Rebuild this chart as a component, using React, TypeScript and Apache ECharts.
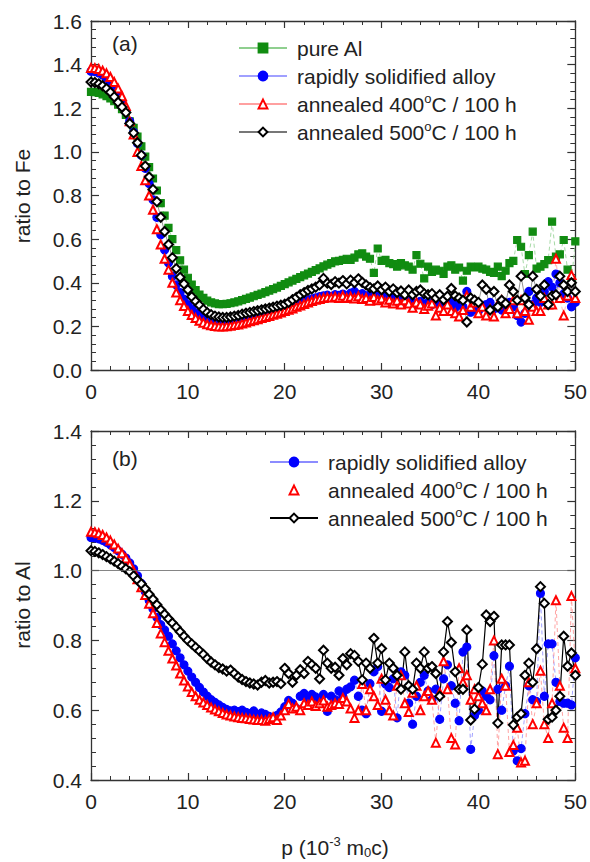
import React, { useEffect, useRef } from 'react';
import * as echarts from 'echarts';

// momentum grid p (10^-3 m0c), step 0.4
const P: number[] = Array.from({ length: 126 }, (_, i) => Math.round(i * 4) / 10);

// ---------- panel (a): ratio to Fe ----------
const topPureAl = [
  1.275, 1.274, 1.27, 1.264, 1.256, 1.245, 1.232, 1.216, 1.196, 1.17,
  1.14, 1.11, 1.07, 1.025, 0.978, 0.93, 0.878, 0.823, 0.765, 0.708,
  0.652, 0.6, 0.55, 0.503, 0.46, 0.423, 0.392, 0.366, 0.346, 0.331,
  0.318, 0.31, 0.305, 0.302, 0.302, 0.303, 0.306, 0.31, 0.315, 0.32,
  0.326, 0.332, 0.338, 0.344, 0.35, 0.357, 0.364, 0.371, 0.378, 0.386,
  0.394, 0.402, 0.41, 0.418, 0.426, 0.434, 0.442, 0.45, 0.458, 0.466,
  0.475, 0.483, 0.49, 0.498, 0.5, 0.505, 0.51, 0.505, 0.515, 0.53,
  0.535, 0.52, 0.51, 0.445, 0.557, 0.5, 0.505, 0.49, 0.485, 0.474,
  0.49, 0.48, 0.474, 0.46, 0.527, 0.487, 0.42, 0.474, 0.45, 0.46,
  0.455, 0.44, 0.474, 0.48, 0.46, 0.47, 0.41, 0.455, 0.474, 0.47,
  0.474, 0.465, 0.46, 0.45, 0.445, 0.474, 0.43, 0.455, 0.49, 0.5,
  0.596, 0.565, 0.44, 0.527, 0.634, 0.465, 0.474, 0.485, 0.504, 0.68,
  0.52, 0.53, 0.596, 0.46, 0.41, 0.59,
];
const topRapid = [
  1.37, 1.368, 1.362, 1.352, 1.338, 1.318, 1.293, 1.262, 1.225, 1.185,
  1.14, 1.09, 1.04, 0.985, 0.925, 0.855, 0.78, 0.7, 0.62, 0.55,
  0.49, 0.43, 0.39, 0.355, 0.325, 0.3, 0.28, 0.262, 0.248, 0.236,
  0.227, 0.22, 0.215, 0.213, 0.213, 0.214, 0.216, 0.219, 0.222, 0.226,
  0.23, 0.234, 0.238, 0.242, 0.246, 0.25, 0.255, 0.26, 0.265, 0.27,
  0.28, 0.286, 0.293, 0.3, 0.307, 0.314, 0.32, 0.326, 0.331, 0.336,
  0.34, 0.343, 0.338, 0.345, 0.342, 0.348, 0.34, 0.352, 0.36, 0.345,
  0.35, 0.34, 0.345, 0.335, 0.342, 0.33, 0.338, 0.325, 0.335, 0.32,
  0.325, 0.31, 0.322, 0.31, 0.3, 0.315, 0.29, 0.31, 0.3, 0.32,
  0.295, 0.31, 0.3, 0.315, 0.285, 0.3, 0.29, 0.36, 0.265, 0.28,
  0.27, 0.29, 0.3, 0.31, 0.28, 0.29, 0.275, 0.3, 0.31, 0.29,
  0.25, 0.22, 0.26, 0.36, 0.3, 0.33, 0.31, 0.36, 0.405, 0.38,
  0.44, 0.4, 0.35, 0.33, 0.29, 0.31,
];
const top400 = [
  1.385, 1.384, 1.38, 1.372, 1.36, 1.343, 1.32, 1.29, 1.255, 1.21,
  1.14, 1.08, 1.0, 0.935, 0.87, 0.8, 0.735, 0.645, 0.575, 0.51,
  0.46, 0.4, 0.355, 0.32, 0.293, 0.27, 0.252, 0.238, 0.226, 0.217,
  0.21, 0.205, 0.202, 0.2, 0.2, 0.201, 0.203, 0.206, 0.209, 0.213,
  0.218, 0.223, 0.228, 0.233, 0.238, 0.243, 0.248, 0.253, 0.258, 0.264,
  0.27, 0.276, 0.282, 0.29, 0.296, 0.303, 0.31, 0.316, 0.322, 0.326,
  0.33, 0.333, 0.332, 0.336, 0.33, 0.34, 0.33, 0.336, 0.328, 0.338,
  0.325, 0.33, 0.318, 0.335, 0.32, 0.328, 0.31, 0.322, 0.305, 0.318,
  0.3, 0.32, 0.305, 0.285, 0.31, 0.3, 0.28, 0.295, 0.305, 0.25,
  0.285, 0.27, 0.3, 0.27, 0.26, 0.245, 0.275, 0.34, 0.29, 0.31,
  0.26, 0.29, 0.25, 0.28, 0.245, 0.3, 0.32, 0.26, 0.28, 0.32,
  0.26, 0.32, 0.27, 0.23, 0.29, 0.27, 0.27, 0.33, 0.3, 0.3,
  0.51, 0.33, 0.25, 0.34, 0.435, 0.33,
];
const top500 = [
  1.32, 1.318, 1.312, 1.303, 1.29, 1.273, 1.252, 1.227, 1.205, 1.18,
  1.13, 1.087, 1.042, 0.985, 0.935, 0.885, 0.828, 0.772, 0.7, 0.635,
  0.575, 0.515, 0.465, 0.425, 0.395, 0.368, 0.336, 0.315, 0.297, 0.278,
  0.263, 0.254, 0.247, 0.243, 0.241, 0.241, 0.243, 0.247, 0.25, 0.256,
  0.26, 0.264, 0.268, 0.272, 0.276, 0.28, 0.284, 0.288, 0.293, 0.297,
  0.302, 0.31, 0.322, 0.333, 0.345, 0.355, 0.365, 0.372, 0.38, 0.39,
  0.42, 0.398, 0.392, 0.405, 0.398, 0.41, 0.395, 0.412, 0.4, 0.418,
  0.402, 0.39, 0.378, 0.372, 0.385, 0.368, 0.38, 0.36, 0.372, 0.355,
  0.362, 0.345, 0.367, 0.345, 0.36, 0.367, 0.35, 0.345, 0.35, 0.33,
  0.345, 0.322, 0.338, 0.374, 0.34, 0.33, 0.32, 0.22, 0.33, 0.32,
  0.31, 0.39, 0.37, 0.275, 0.36, 0.29, 0.32, 0.305, 0.39, 0.36,
  0.32, 0.43, 0.33, 0.3, 0.43, 0.37, 0.34, 0.39, 0.3, 0.34,
  0.345, 0.43, 0.39, 0.36, 0.4, 0.36,
];

// ---------- panel (b): ratio to Al ----------
const botRapid = [
  1.095, 1.094, 1.091, 1.087, 1.081, 1.074, 1.066, 1.057, 1.047, 1.036,
  1.022, 1.005, 0.985, 0.963, 0.94, 0.915, 0.89, 0.866, 0.845, 0.83,
  0.812, 0.79, 0.77, 0.75, 0.73, 0.712, 0.695, 0.68, 0.665, 0.652,
  0.64, 0.63, 0.622, 0.615, 0.608, 0.602, 0.598, 0.6, 0.596, 0.6,
  0.594, 0.59, 0.598, 0.585, 0.592, 0.588, 0.582, 0.578, 0.585, 0.595,
  0.61, 0.628, 0.62, 0.605, 0.64, 0.648, 0.63, 0.645, 0.638, 0.628,
  0.645, 0.597, 0.64, 0.63, 0.655, 0.64, 0.66, 0.667, 0.686, 0.64,
  0.6, 0.59, 0.676, 0.71, 0.725, 0.597, 0.675, 0.665, 0.69, 0.578,
  0.71, 0.7, 0.62, 0.56, 0.64, 0.68, 0.7, 0.655, 0.63, 0.66,
  0.574, 0.69, 0.73, 0.67, 0.62, 0.57, 0.767, 0.781, 0.488, 0.585,
  0.6, 0.655, 0.64, 0.63, 0.756, 0.66, 0.6, 0.67, 0.726, 0.483,
  0.455, 0.49, 0.59, 0.67, 0.63, 0.625, 0.935, 0.64, 0.79, 0.79,
  0.68, 0.625, 0.62, 0.62, 0.615, 0.75,
];
const bot400 = [
  1.111, 1.11, 1.107, 1.102, 1.095, 1.086, 1.075, 1.063, 1.05, 1.035,
  1.018, 0.998, 0.975, 0.952, 0.93, 0.905, 0.878, 0.85, 0.82, 0.795,
  0.77, 0.748, 0.728, 0.705, 0.685, 0.668, 0.652, 0.64, 0.63, 0.622,
  0.615, 0.608, 0.602, 0.597, 0.592, 0.588, 0.585, 0.582, 0.58, 0.578,
  0.577, 0.575, 0.573, 0.572, 0.572, 0.57, 0.575, 0.58, 0.572, 0.585,
  0.6, 0.618, 0.605, 0.61, 0.6, 0.62, 0.615, 0.625, 0.612, 0.62,
  0.628, 0.61, 0.615, 0.62, 0.618, 0.635, 0.625, 0.605, 0.578, 0.6,
  0.675, 0.6, 0.66, 0.64, 0.615, 0.69, 0.63, 0.6, 0.585, 0.67,
  0.7, 0.62, 0.595, 0.65, 0.67, 0.6, 0.64, 0.655, 0.63, 0.507,
  0.65, 0.74, 0.66, 0.52, 0.502, 0.72, 0.68, 0.7, 0.63, 0.66,
  0.64, 0.62, 0.6, 0.66, 0.8, 0.474, 0.69, 0.67, 0.48, 0.5,
  0.55, 0.45, 0.455, 0.68, 0.56, 0.62, 0.713, 0.56, 0.52, 0.62,
  0.915, 0.67, 0.55, 0.52, 0.927, 0.72,
];
const bot500 = [
  1.057, 1.055, 1.051, 1.046, 1.04, 1.034, 1.027, 1.02, 1.012, 1.005,
  0.997, 0.985, 0.973, 0.962, 0.948, 0.932, 0.918, 0.902, 0.888, 0.875,
  0.862, 0.85, 0.838, 0.825, 0.812, 0.8, 0.79, 0.78, 0.77, 0.76,
  0.748, 0.738, 0.73, 0.722, 0.718, 0.712, 0.715, 0.705, 0.695, 0.688,
  0.682, 0.678, 0.675, 0.672, 0.68, 0.685, 0.678, 0.68, 0.682, 0.676,
  0.72, 0.705, 0.68, 0.7, 0.716, 0.705, 0.74, 0.73, 0.72, 0.69,
  0.772, 0.735, 0.72, 0.723, 0.7, 0.748, 0.73, 0.762, 0.757, 0.74,
  0.687, 0.735, 0.72, 0.806, 0.735, 0.777, 0.687, 0.735, 0.72, 0.7,
  0.66, 0.767, 0.67, 0.66, 0.735, 0.72, 0.767, 0.72, 0.725, 0.705,
  0.64, 0.767, 0.854, 0.794, 0.71, 0.66, 0.66, 0.83, 0.572, 0.603,
  0.665, 0.732, 0.873, 0.854, 0.869, 0.563, 0.787, 0.787, 0.787, 0.558,
  0.58, 0.59, 0.7, 0.735, 0.68, 0.776, 0.954, 0.906, 0.574, 0.58,
  0.6, 0.64, 0.812, 0.726, 0.764, 0.7,
];

const LABELS: Record<string, string> = {
  a1: '{sp| }pure Al',
  a2: '{sp| }rapidly solidified alloy',
  a3: '{sp| }annealed 400{sup|o}C / 100 h',
  a4: '{sp| }annealed 500{sup|o}C / 100 h',
  b2: '{sp| }rapidly solidified alloy',
  b3: '{sp| }annealed 400{sup|o}C / 100 h',
  b4: '{sp| }annealed 500{sup|o}C / 100 h',
};

const FONT = '"Liberation Sans", Arial, sans-serif';
const AX = '#333';
const TXT = '#222';

function xAx(grid: number, pos: string, show: boolean) {
  return {
    type: 'value', gridIndex: grid, position: pos, min: 0, max: 50, interval: 10,
    axisLine: { show: true, onZero: false, lineStyle: { color: AX, width: 1.3 } },
    axisTick: { show: true, inside: true, length: 7, lineStyle: { color: AX, width: 1.2 } },
    minorTick: { show: true, splitNumber: 5, length: 4, lineStyle: { color: AX, width: 1 } },
    axisLabel: { show, fontSize: 21, color: TXT, fontFamily: FONT, margin: 11 },
    splitLine: { show: false },
  };
}
function yAx(grid: number, pos: string, show: boolean, min: number, max: number) {
  return {
    type: 'value', gridIndex: grid, position: pos, min, max, interval: 0.2,
    axisLine: { show: true, onZero: false, lineStyle: { color: AX, width: 1.3 } },
    axisTick: { show: true, inside: true, length: 8, lineStyle: { color: AX, width: 1.2 } },
    minorTick: { show: true, splitNumber: 5, length: 5, lineStyle: { color: AX, width: 1 } },
    axisLabel: { show, fontSize: 21, color: TXT, fontFamily: FONT, margin: 9,
      formatter: (v: number) => v.toFixed(1) },
    splitLine: { show: false },
  };
}

function pts(ys: number[]) {
  return P.map((x, i) => [x, ys[i]]);
}

function ser(name: string, ys: number[], g: number, symbol: string, size: number,
  color: string, line: any, extra: any = {}) {
  return {
    name, type: 'line', xAxisIndex: g * 2, yAxisIndex: g * 2, data: pts(ys),
    symbol, symbolSize: size, showAllSymbol: true,
    itemStyle: { color, borderColor: color, borderWidth: 1.2 },
    lineStyle: line, emphasis: { disabled: true }, animation: false, ...extra,
  };
}

const legendText = {
  fontSize: 21, lineHeight: 24, color: TXT, fontFamily: FONT,
  rich: {
    sp: { width: 5, fontSize: 21 },
    sup: { fontSize: 13, verticalAlign: 'top', color: TXT, fontFamily: FONT },
  },
};

const option: any = {
  animation: false,
  backgroundColor: '#fff',
  grid: [
    { left: 91, right: 11, top: 21, height: 349 },
    { left: 91, right: 11, top: 431, height: 349 },
  ],
  xAxis: [xAx(0, 'bottom', true), xAx(0, 'top', false), xAx(1, 'bottom', true), xAx(1, 'top', false)],
  yAxis: [yAx(0, 'left', true, 0, 1.6), yAx(0, 'right', false, 0, 1.6),
    yAx(1, 'left', true, 0.4, 1.4), yAx(1, 'right', false, 0.4, 1.4)],
  legend: [
    {
      left: 233, top: 31, orient: 'vertical', itemWidth: 48, itemHeight: 11, itemGap: 4,
      selectedMode: false, formatter: (n: string) => LABELS[n], textStyle: legendText,
      data: [
        { name: 'a1', lineStyle: { type: 'solid' } },
        { name: 'a2', lineStyle: { type: 'solid' } },
        { name: 'a3', lineStyle: { type: 'solid' } },
        { name: 'a4' },
      ],
    },
    {
      left: 264, top: 445, orient: 'vertical', itemWidth: 48, itemHeight: 11, itemGap: 4,
      selectedMode: false, formatter: (n: string) => LABELS[n], textStyle: legendText,
      data: [
        { name: 'b2', lineStyle: { type: 'solid' } },
        { name: 'b3', lineStyle: { opacity: 0 } },
        { name: 'b4' },
      ],
    },
  ],
  series: [
    ser('a1', topPureAl, 0, 'rect', 7, '#118c11', { color: '#8fcf8f', width: 0.8, type: [4, 3] }),
    ser('a2', topRapid, 0, 'circle', 8, '#0000ff', { color: '#a0a0ff', width: 0.8, type: [4, 3] }),
    ser('a3', top400, 0, 'emptyTriangle', 8, '#ff0000', { color: '#ffa0a0', width: 0.8, type: [4, 3] }),
    ser('a4', top500, 0, 'emptyDiamond', 9, '#000000', { color: '#777', width: 0.8 }),
    ser('b2', botRapid, 1, 'circle', 8, '#0000ff', { color: '#8c8cff', width: 0.8, type: [4, 3] }, {
      markLine: {
        silent: true, symbol: ['none', 'none'], label: { show: false }, animation: false,
        lineStyle: { color: '#666', width: 0.8, type: 'solid' }, data: [{ yAxis: 1 }],
      },
    }),
    ser('b3', bot400, 1, 'emptyTriangle', 8, '#ff0000', { color: '#ff8c8c', width: 0.8, type: [4, 3] }),
    ser('b4', bot500, 1, 'emptyDiamond', 9, '#000000', { color: '#000', width: 1.2 }),
  ],
  graphic: [
    { type: 'text', x: 112, y: 43, style: { text: '(a)', fontSize: 21, fontFamily: FONT, fill: TXT, textAlign: 'left', textVerticalAlign: 'middle' } },
    { type: 'text', x: 112, y: 458, style: { text: '(b)', fontSize: 21, fontFamily: FONT, fill: TXT, textAlign: 'left', textVerticalAlign: 'middle' } },
    { type: 'text', x: 22, y: 196, rotation: Math.PI / 2, style: { text: 'ratio to Fe', fontSize: 21, fontFamily: FONT, fill: TXT, textAlign: 'center', textVerticalAlign: 'middle' } },
    { type: 'text', x: 22, y: 605, rotation: Math.PI / 2, style: { text: 'ratio to Al', fontSize: 21, fontFamily: FONT, fill: TXT, textAlign: 'center', textVerticalAlign: 'middle' } },
    {
      type: 'text', x: 335, y: 847,
      style: {
        text: '{a|p (10}{sup|-3}{a| m}{sub|0}{a|c)}', textAlign: 'center', textVerticalAlign: 'middle',
        fill: TXT, fontFamily: FONT,
        rich: {
          a: { fontSize: 21, lineHeight: 24, fontFamily: FONT, fill: TXT, color: TXT },
          sup: { fontSize: 13, verticalAlign: 'top', fontFamily: FONT, fill: TXT, color: TXT },
          sub: { fontSize: 13, verticalAlign: 'bottom', fontFamily: FONT, fill: TXT, color: TXT },
        },
      },
    },
  ],
};

export default function App() {
  const ref = useRef<HTMLDivElement>(null);
  useEffect(() => {
    if (!ref.current) return;
    const chart = echarts.init(ref.current, null, { renderer: 'svg' });
    chart.setOption(option);
    return () => chart.dispose();
  }, []);
  return (
    <div
      ref={ref}
      style={{ position: 'fixed', left: 0, top: 0, width: 590, height: 862, background: '#fff' }}
    />
  );
}
